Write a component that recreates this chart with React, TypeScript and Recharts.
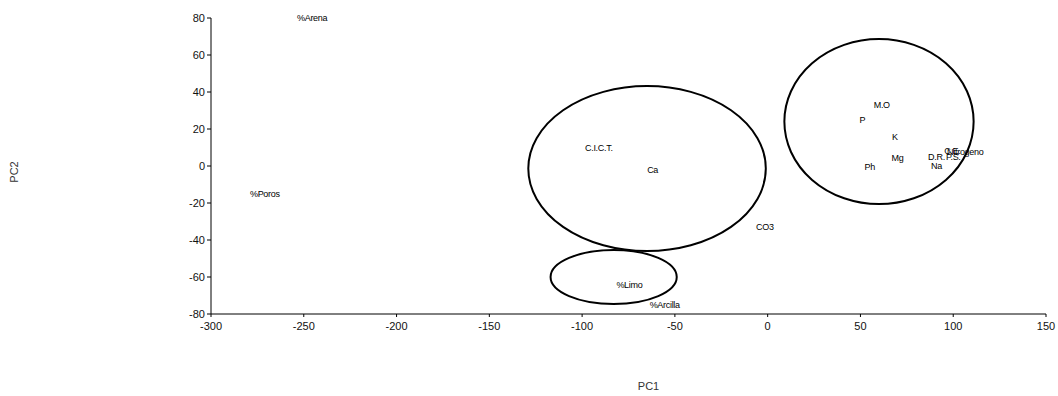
import { ReferenceArea, Scatter, ScatterChart, XAxis, YAxis } from "recharts";

// variable labels and their PC1 / PC2 loadings
const names = [
  "%Arena", "%Poros", "C.I.C.T.", "Ca", "CO3", "%Limo", "%Arcilla",
  "M.O", "P", "K", "Mg", "Ph", "D.R.", "P.S.", "Na", "C.E.", "Nitrogeno",
];
const pc1 = [-245.5, -271, -91, -62, -1.5, -74.5, -55.5, 61.5, 51, 68.5, 70, 55, 91, 100, 91, 99.5, 106.5];
const pc2 = [80, -15, 9.7, -2.2, -33, -64.3, -75, 33, 25, 15.7, 4.3, -0.5, 5, 5, 0, 8, 7.5];

// grouping ellipses: centre and half-axes in data units
const groupCx = [60, -65, -83];
const groupCy = [24, -1.4, -60];
const groupRx = [51, 64, 34];
const groupRy = [44.6, 44.6, 14.6];

const xTicks = [-300, -250, -200, -150, -100, -50, 0, 50, 100, 150];
const yTicks = [-80, -60, -40, -20, 0, 20, 40, 60, 80];

const points = names.map((name, i) => ({ name, x: pc1[i], y: pc2[i] }));

const tickStyle = { fontSize: 11, fill: "#111", fontFamily: "Liberation Sans, Arial, sans-serif" };

const LabelShape = (props: any) => (
  <text
    x={props.cx}
    y={props.cy}
    textAnchor="middle"
    dominantBaseline="central"
    fontSize={9}
    letterSpacing={-0.3}
    fontFamily="Liberation Sans, Arial, sans-serif"
    fill="#000"
  >
    {props.payload.name}
  </text>
);

const EllipseShape = (props: any) => (
  <ellipse
    cx={props.x + props.width / 2}
    cy={props.y + props.height / 2}
    rx={props.width / 2}
    ry={props.height / 2}
    fill="none"
    stroke="#000"
    strokeWidth={2}
  />
);

export default function App() {
  return (
    <div style={{ position: "absolute", left: 0, top: 0, width: 1058, height: 396, background: "#fff" }}>
      <ScatterChart width={1058} height={396} margin={{ top: 18, right: 12, bottom: 2, left: 0 }}>
        <XAxis
          type="number"
          dataKey="x"
          domain={[-300, 150]}
          ticks={xTicks}
          tick={tickStyle}
          tickSize={3}
          tickMargin={5}
          height={80}
          stroke="#000"
          label={{
            value: "PC1",
            position: "insideBottom",
            offset: 4,
            dx: 20,
            style: { fontSize: 11, fill: "#333", fontFamily: "Liberation Sans, Arial, sans-serif" },
          }}
        />
        <YAxis
          type="number"
          dataKey="y"
          domain={[-80, 80]}
          ticks={yTicks}
          tick={tickStyle}
          tickSize={4}
          tickMargin={2}
          width={211}
          stroke="#000"
          label={{
            value: "PC2",
            angle: -90,
            position: "insideLeft",
            offset: 14,
            dy: 6,
            style: { fontSize: 11, fill: "#333", fontFamily: "Liberation Sans, Arial, sans-serif", textAnchor: "middle" },
          }}
        />
        {groupCx.map((cx, i) => (
          <ReferenceArea
            key={i}
            x1={cx - groupRx[i]}
            x2={cx + groupRx[i]}
            y1={groupCy[i] - groupRy[i]}
            y2={groupCy[i] + groupRy[i]}
            shape={EllipseShape}
          />
        ))}
        <Scatter data={points} shape={LabelShape} isAnimationActive={false} />
      </ScatterChart>
    </div>
  );
}
